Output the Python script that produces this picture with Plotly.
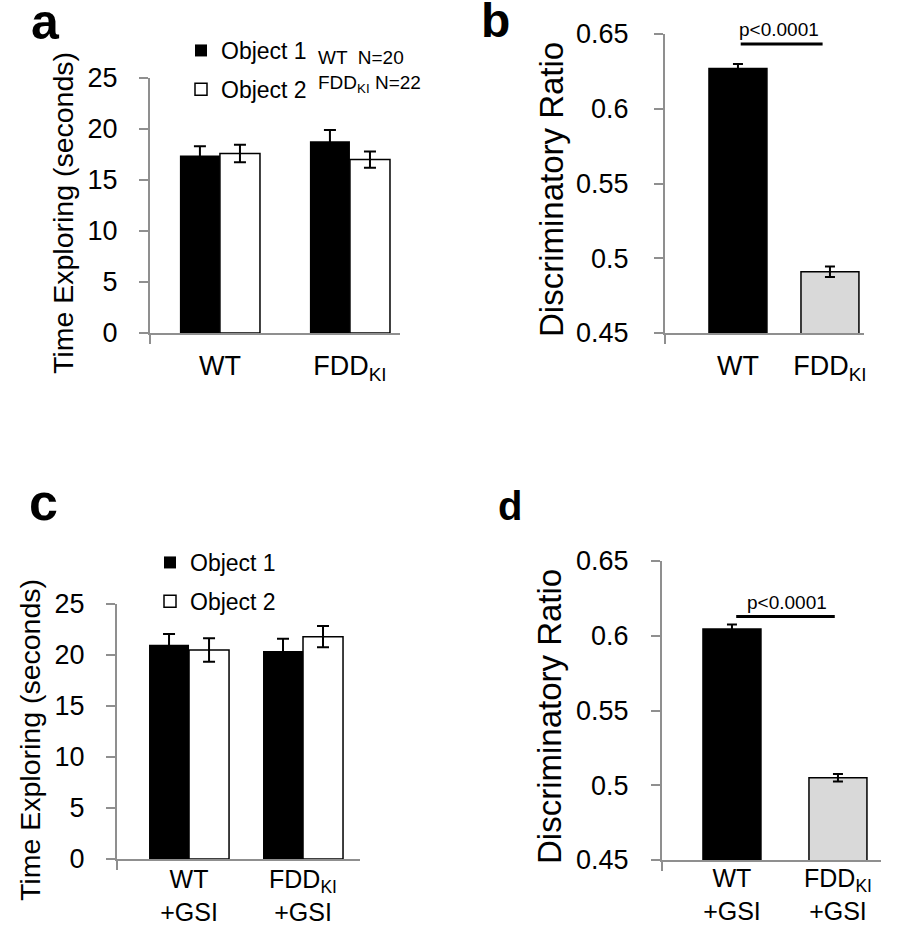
import plotly.graph_objects as go

# ---------------- data ----------------
groups_a = ["WT", "FDD<sub>KI</sub>"]
obj1_a = [17.4, 18.8]
obj1_a_err = [0.9, 1.1]
obj2_a = [17.6, 17.0]
obj2_a_err = [0.85, 0.8]

groups_b = ["WT", "FDD<sub>KI</sub>"]
ratio_b = [0.627, 0.491]
ratio_b_err = [0.003, 0.0035]

groups_c = ["WT<br>+GSI", "FDD<sub>KI</sub><br>+GSI"]
obj1_c = [21.0, 20.4]
obj1_c_err = [1.05, 1.2]
obj2_c = [20.5, 21.8]
obj2_c_err = [1.15, 1.05]

groups_d = ["WT<br>+GSI", "FDD<sub>KI</sub><br>+GSI"]
ratio_d = [0.6045, 0.505]
ratio_d_err = [0.003, 0.0025]

time_ticks = [0, 5, 10, 15, 20, 25]
ratio_ticks = [0.45, 0.5, 0.55, 0.6, 0.65]
ratio_ticktext = ["0.45", "0.5", "0.55", "0.6", "0.65"]

p_text = "p<0.0001"
p_b = 0.6433
p_d = 0.6128
n_notes = ["WT  N=20", "FDD<sub>KI</sub> N=22"]

# ---------------- layout helpers ----------------
W, H = 914, 927
FONT = "Liberation Sans, Arial, sans-serif"
AX = "#8f8f8f"


def px_x(a, b):
    return [a / W, b / W]


def px_y(top, bottom):
    return [1 - bottom / H, 1 - top / H]


pos = [0, 1]
fig = go.Figure()

# ---- panel a ----
wa = 0.308
fig.add_trace(go.Bar(x=pos, y=obj1_a, width=wa, offset=-wa, name="Object 1",
                     marker=dict(color="black", line=dict(width=0)),
                     error_y=dict(type="data", array=obj1_a_err, color="black", thickness=2, width=6),
                     xaxis="x", yaxis="y", legend="legend", legendgroup="a1"))
fig.add_trace(go.Bar(x=pos, y=obj2_a, width=wa, offset=0, name="Object 2",
                     marker=dict(color="white", line=dict(width=1.5, color="black")),
                     error_y=dict(type="data", array=obj2_a_err, color="black", thickness=2, width=6),
                     xaxis="x", yaxis="y", legend="legend", legendgroup="a2"))

# ---- panel b ----
fig.add_trace(go.Bar(x=pos, y=ratio_b, width=0.63, showlegend=False,
                     marker=dict(color=["black", "#d9d9d9"], line=dict(width=1.5, color="black")),
                     error_y=dict(type="data", array=ratio_b_err, color="black", thickness=2, width=5),
                     xaxis="x2", yaxis="y2"))

# ---- panel c ----
wc = 0.351
fig.add_trace(go.Bar(x=pos, y=obj1_c, width=wc, offset=-wc, name="Object 1",
                     marker=dict(color="black", line=dict(width=0)),
                     error_y=dict(type="data", array=obj1_c_err, color="black", thickness=2, width=6),
                     xaxis="x3", yaxis="y3", legend="legend2", legendgroup="c1"))
fig.add_trace(go.Bar(x=pos, y=obj2_c, width=wc, offset=0, name="Object 2",
                     marker=dict(color="white", line=dict(width=1.5, color="black")),
                     error_y=dict(type="data", array=obj2_c_err, color="black", thickness=2, width=6),
                     xaxis="x3", yaxis="y3", legend="legend2", legendgroup="c2"))

# ---- panel d ----
fig.add_trace(go.Bar(x=pos, y=ratio_d, width=0.547, showlegend=False,
                     marker=dict(color=["black", "#d9d9d9"], line=dict(width=1.5, color="black")),
                     error_y=dict(type="data", array=ratio_d_err, color="black", thickness=2, width=5),
                     xaxis="x4", yaxis="y4"))


def xaxis(domain, rng, labels, anchor, standoff, size):
    return dict(domain=domain, range=rng, anchor=anchor, automargin=False,
                showline=True, linecolor=AX, linewidth=2,
                showgrid=False, zeroline=False, tickmode="array", tickvals=pos, ticktext=labels,
                ticks="", ticklabelstandoff=standoff,
                tickfont=dict(family=FONT, size=size, color="black"),
                minor=dict(tickmode="array", tickvals=[rng[0] + 1e-6], ticks="outside", ticklen=9,
                           tickwidth=2, tickcolor=AX, showgrid=False))


def yaxis(domain, rng, vals, text, anchor, standoff):
    return dict(domain=domain, range=rng, anchor=anchor, automargin=False,
                showline=True, linecolor=AX, linewidth=2,
                showgrid=False, zeroline=False, tickmode="array", tickvals=vals, ticktext=text,
                ticks="outside", ticklen=9, tickwidth=2, tickcolor=AX, ticklabelstandoff=standoff,
                tickfont=dict(family=FONT, size=27, color="black"))


fig.update_layout(
    width=W, height=H, margin=dict(l=0, r=0, t=0, b=0, autoexpand=False),
    paper_bgcolor="white", plot_bgcolor="white", barmode="overlay",
    font=dict(family=FONT, color="black"),
    xaxis=xaxis(px_x(150, 400), [-0.538, 1.385], groups_a, "y", 8, 27),
    yaxis=yaxis(px_y(78, 333), [0, 25], time_ticks, [str(t) for t in time_ticks], "x", 16),
    xaxis2=xaxis(px_x(665, 864), [-0.793, 1.370], groups_b, "y2", 8, 27),
    yaxis2=yaxis(px_y(34, 333), [0.45, 0.65], ratio_ticks, ratio_ticktext, "x2", 20),
    xaxis3=xaxis(px_x(117, 360), [-0.632, 1.5], groups_c, "y3", -3, 25),
    yaxis3=yaxis(px_y(604, 859), [0, 25], time_ticks, [str(t) for t in time_ticks], "x3", 16),
    xaxis4=xaxis(px_x(662, 881), [-0.660, 1.406], groups_d, "y4", -5, 25),
    yaxis4=yaxis(px_y(561, 860), [0.45, 0.65], ratio_ticks, ratio_ticktext, "x4", 17),
    legend=dict(x=181 / W, y=1 - 29 / H, xanchor="left", yanchor="top", bgcolor="rgba(0,0,0,0)",
                font=dict(family=FONT, size=23, color="black"), tracegroupgap=6,
                itemwidth=30),
    legend2=dict(x=150 / W, y=1 - 541 / H, xanchor="left", yanchor="top", bgcolor="rgba(0,0,0,0)",
                 font=dict(family=FONT, size=23, color="black"), tracegroupgap=6,
                 itemwidth=30),
)

ann = []
# axis titles
ann.append(dict(text="Time Exploring (seconds)", x=63 / W, y=1 - 213 / H, textangle=-90,
                font=dict(size=28.5)))
ann.append(dict(text="Discriminatory Ratio", x=552 / W, y=1 - 190 / H, textangle=-90,
                font=dict(size=33)))
ann.append(dict(text="Time Exploring (seconds)", x=30 / W, y=1 - 740 / H, textangle=-90,
                font=dict(size=28.5)))
ann.append(dict(text="Discriminatory Ratio", x=549 / W, y=1 - 717 / H, textangle=-90,
                font=dict(size=33)))
# panel letters
for letter, x, y, s in [("a", 45, 22, 50), ("b", 495, 21, 48), ("c", 43, 502, 52), ("d", 510, 506, 40)]:
    ann.append(dict(text="<b>" + letter + "</b>", x=x / W, y=1 - y / H, font=dict(size=s)))
# N notes
ann.append(dict(text=n_notes[0], x=316 / W, y=1 - 58 / H, xanchor="left", font=dict(size=19)))
ann.append(dict(text=n_notes[1], x=316 / W, y=1 - 84 / H, xanchor="left", font=dict(size=19)))
# p-values
ann.append(dict(text=p_text, x=0.45, xref="x2", y=p_b, yref="y2", yanchor="bottom", yshift=2,
                font=dict(size=19)))
ann.append(dict(text=p_text, x=0.52, xref="x4", y=p_d, yref="y4", yanchor="bottom", yshift=2,
                font=dict(size=19)))

for a in ann:
    a.setdefault("xref", "paper")
    a.setdefault("yref", "paper")
    a.setdefault("xanchor", "center")
    a.setdefault("yanchor", "middle")
    a["showarrow"] = False
    a["font"] = dict(family=FONT, color="black", **a["font"])
fig.update_layout(annotations=ann)

fig.add_shape(type="line", xref="x2", yref="y2", x0=0.03, x1=0.92, y0=p_b, y1=p_b,
              line=dict(color="black", width=3))
fig.add_shape(type="line", xref="x4", yref="y4", x0=0.04, x1=0.97, y0=p_d, y1=p_d,
              line=dict(color="black", width=3))

fig.write_html("out.html", config={"displayModeBar": False},
               post_script="document.body.style.margin='0';document.body.style.overflow='hidden';")
